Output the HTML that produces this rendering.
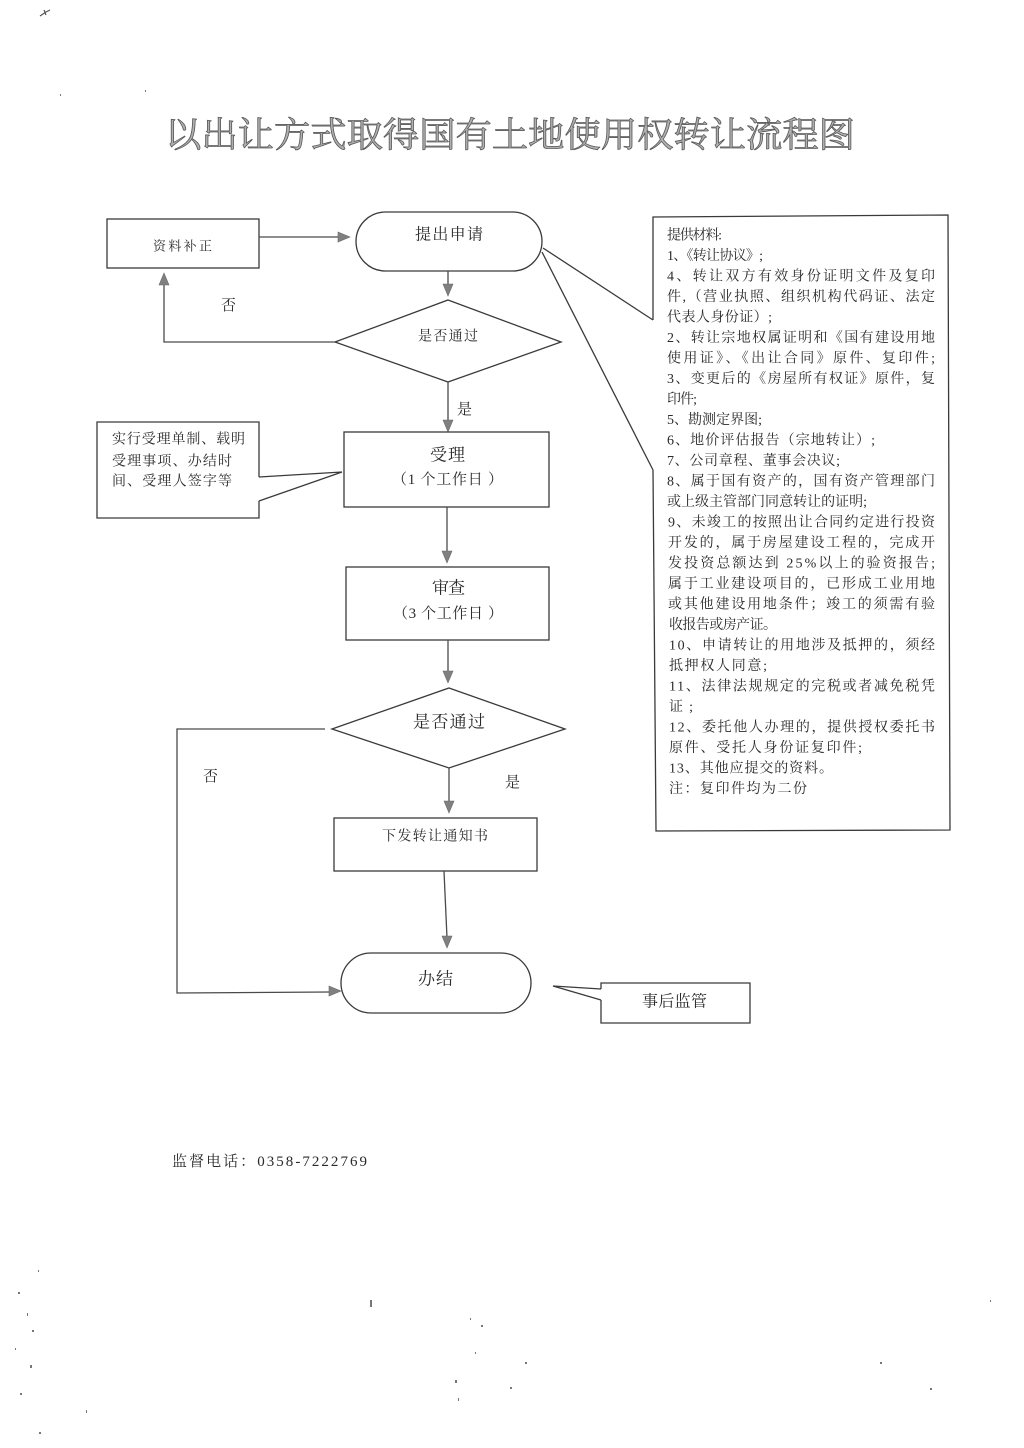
<!DOCTYPE html>
<html>
<head>
<meta charset="utf-8">
<style>
  html,body{margin:0;padding:0;background:#fff;}
  svg{display:block;}
  text{font-family:"Liberation Serif","Noto Serif CJK SC","Noto Sans CJK SC",serif;fill:#2a2a2a;dominant-baseline:central;}
  .box{fill:none;stroke:#3a3a3a;stroke-width:1.3;}
  .ln{fill:none;stroke:#4a4a4a;stroke-width:1.3;}
  .ah{fill:#808080;stroke:#6a6a6a;stroke-width:0.6;}
  .rt{font-size:14px;}
</style>
</head>
<body>
<svg width="1024" height="1448" viewBox="0 0 1024 1448" xmlns="http://www.w3.org/2000/svg">
  <rect x="0" y="0" width="1024" height="1448" fill="#fff"/>

  <!-- scan marks -->
  <path d="M40 16 L46 12 L50 10 M44 10 L46 15" stroke="#555" stroke-width="1.2" fill="none"/>

  <!-- Title -->
  <text x="165" y="133" font-size="35" textLength="690" lengthAdjust="spacingAndGlyphs" style="fill:#b0b0b0;stroke:#5a5a5a;stroke-width:0.8;font-weight:400;font-family:'Noto Serif CJK SC',serif;">以出让方式取得国有土地使用权转让流程图</text>

  <!-- 资料补正 box -->
  <rect class="box" x="107" y="219" width="152" height="49"/>
  <text x="153" y="246" font-size="13" textLength="59">资料补正</text>

  <!-- arrow 资料补正 -> 提出申请 -->
  <line class="ln" x1="259" y1="237" x2="340" y2="237"/>
  <polygon class="ah" points="338,232 350,237 338,242"/>

  <!-- 提出申请 terminal -->
  <rect class="box" x="356" y="212" width="186" height="59" rx="29.5" ry="29.5"/>
  <text x="415" y="235" font-size="16" textLength="68">提出申请</text>

  <!-- arrow down to diamond1 -->
  <line class="ln" x1="448" y1="271" x2="448" y2="286"/>
  <polygon class="ah" points="443,284 453,284 448,296"/>

  <!-- diamond 1 -->
  <polygon class="box" points="448,300 561,342 448,382 335,342"/>
  <text x="418" y="337" font-size="14" textLength="60">是否通过</text>

  <!-- no branch 1 -->
  <polyline class="ln" points="335,342 164,342 164,284"/>
  <polygon class="ah" points="159,285 169,285 164,273"/>
  <text x="221" y="306" font-size="15">否</text>

  <!-- yes branch 1 -->
  <line class="ln" x1="448" y1="382" x2="448" y2="422"/>
  <polygon class="ah" points="443,420 453,420 448,432"/>
  <text x="457" y="410" font-size="15">是</text>

  <!-- left callout -->
  <polyline class="box" points="259,477 259,422 97,422 97,518 259,518 259,501"/>
  <polyline class="box" points="259,477 342,472 259,501"/>
  <text x="112" y="440" font-size="14" textLength="133">实行受理单制、载明</text>
  <text x="112" y="462" font-size="14" textLength="120">受理事项、办结时</text>
  <text x="112" y="482" font-size="14" textLength="120">间、受理人签字等</text>

  <!-- 受理 box -->
  <rect class="box" x="344" y="432" width="205" height="75"/>
  <text x="430" y="455" font-size="17" textLength="35">受理</text>
  <text x="392" y="480" font-size="15" textLength="111">（1 个工作日 ）</text>

  <!-- arrow -> 审查 -->
  <line class="ln" x1="447" y1="507" x2="447" y2="553"/>
  <polygon class="ah" points="442,551 452,551 447,563"/>

  <!-- 审查 box -->
  <rect class="box" x="346" y="567" width="203" height="73"/>
  <text x="432" y="588" font-size="17" textLength="33">审查</text>
  <text x="393" y="614" font-size="15" textLength="110">（3 个工作日 ）</text>

  <!-- arrow -> diamond2 -->
  <line class="ln" x1="448" y1="640" x2="448" y2="673"/>
  <polygon class="ah" points="443,671 453,671 448,683"/>

  <!-- diamond 2 -->
  <polygon class="box" points="449,688 565,729 449,768 332,729"/>
  <text x="413" y="722" font-size="17" textLength="72">是否通过</text>

  <!-- yes branch 2 -->
  <line class="ln" x1="449" y1="768" x2="449" y2="803"/>
  <polygon class="ah" points="444,801 454,801 449,813"/>
  <text x="505" y="783" font-size="15">是</text>

  <!-- no branch 2 -->
  <polyline class="ln" points="325,729 177,729 177,993 330,992"/>
  <polygon class="ah" points="329,986 341,991 329,996"/>
  <text x="203" y="777" font-size="15">否</text>

  <!-- 下发转让通知书 -->
  <rect class="box" x="334" y="818" width="203" height="53"/>
  <text x="382" y="837" font-size="14" textLength="106">下发转让通知书</text>

  <!-- arrow -> 办结 -->
  <line class="ln" x1="444" y1="871" x2="447" y2="938"/>
  <polygon class="ah" points="442,936 452,936 447,948"/>

  <!-- 办结 terminal -->
  <rect class="box" x="341" y="953" width="190" height="60" rx="30" ry="30"/>
  <text x="418" y="979" font-size="17" textLength="35">办结</text>

  <!-- 事后监管 callout -->
  <polyline class="box" points="601,989 601,983 750,983 750,1023 601,1023 601,1000"/>
  <polyline class="box" points="601,989 553,986 601,1000"/>
  <text x="642" y="1002" font-size="16" textLength="65">事后监管</text>

  <!-- right materials callout -->
  <polyline class="box" points="653,320 653,217 948,215 950,830 656,831 653,470"/>
  <polyline class="box" points="653,320 543,248"/>
  <polyline class="box" points="542,252 653,470"/>

  <g class="rt">
    <text x="667" y="236" font-size="14" textLength="55">提供材料:</text>
    <text x="667" y="256.5" font-size="14" textLength="96">1、《转让协议》;</text>
    <text x="667" y="277" font-size="14" textLength="268">4、转让双方有效身份证明文件及复印</text>
    <text x="667" y="297.5" font-size="14" textLength="268">件,（营业执照、组织机构代码证、法定</text>
    <text x="667" y="318" font-size="14" textLength="105">代表人身份证）;</text>
    <text x="667" y="338.5" font-size="14" textLength="268">2、转让宗地权属证明和《国有建设用地</text>
    <text x="667" y="359" font-size="14" textLength="268">使用证》、《出让合同》原件、复印件;</text>
    <text x="667" y="379.5" font-size="14" textLength="268">3、变更后的《房屋所有权证》原件，复</text>
    <text x="667" y="400" font-size="14" textLength="30">印件;</text>
    <text x="667" y="420.5" font-size="14" textLength="95">5、勘测定界图;</text>
    <text x="667" y="441" font-size="14" textLength="208">6、地价评估报告（宗地转让）;</text>
    <text x="667" y="461.5" font-size="14" textLength="173">7、公司章程、董事会决议;</text>
    <text x="667" y="482" font-size="14" textLength="268">8、属于国有资产的，国有资产管理部门</text>
    <text x="667" y="502.5" font-size="14" textLength="200">或上级主管部门同意转让的证明;</text>
    <text x="668" y="523" font-size="14" textLength="267">9、未竣工的按照出让合同约定进行投资</text>
    <text x="668" y="543.5" font-size="14" textLength="267">开发的，属于房屋建设工程的，完成开</text>
    <text x="668" y="564" font-size="14" textLength="267">发投资总额达到 25%以上的验资报告;</text>
    <text x="668" y="584.5" font-size="14" textLength="267">属于工业建设项目的，已形成工业用地</text>
    <text x="668" y="605" font-size="14" textLength="267">或其他建设用地条件；竣工的须需有验</text>
    <text x="669" y="625.5" font-size="14" textLength="108">收报告或房产证。</text>
    <text x="669" y="646" font-size="14" textLength="266">10、申请转让的用地涉及抵押的，须经</text>
    <text x="669" y="666.5" font-size="14" textLength="98">抵押权人同意;</text>
    <text x="669" y="687" font-size="14" textLength="266">11、法律法规规定的完税或者减免税凭</text>
    <text x="669" y="707.5" font-size="14" textLength="24">证;</text>
    <text x="669" y="728" font-size="14" textLength="266">12、委托他人办理的，提供授权委托书</text>
    <text x="669" y="748.5" font-size="14" textLength="193">原件、受托人身份证复印件;</text>
    <text x="669" y="769" font-size="14" textLength="164">13、其他应提交的资料。</text>
    <text x="669" y="789.5" font-size="14" textLength="138">注：复印件均为二份</text>
  </g>

  <!-- phone -->
  <text x="172" y="1162" font-size="15" textLength="195">监督电话：0358-7222769</text>

  <!-- scan specks -->
  <g fill="#777">
    <rect x="38" y="1270" width="1" height="2"/>
    <rect x="18" y="1292" width="2" height="2"/>
    <rect x="27" y="1313" width="1" height="3"/>
    <rect x="32" y="1330" width="2" height="2"/>
    <rect x="15" y="1348" width="1" height="2"/>
    <rect x="30" y="1365" width="2" height="3"/>
    <rect x="20" y="1393" width="2" height="2"/>
    <rect x="86" y="1410" width="1" height="3"/>
    <rect x="39" y="1432" width="2" height="2"/>
    <rect x="370" y="1300" width="2" height="7"/>
    <rect x="470" y="1318" width="1" height="2"/>
    <rect x="481" y="1325" width="2" height="2"/>
    <rect x="475" y="1352" width="1" height="2"/>
    <rect x="525" y="1362" width="2" height="2"/>
    <rect x="455" y="1380" width="2" height="3"/>
    <rect x="510" y="1387" width="2" height="2"/>
    <rect x="458" y="1398" width="1" height="3"/>
    <rect x="880" y="1362" width="2" height="2"/>
    <rect x="930" y="1388" width="2" height="2"/>
    <rect x="990" y="1300" width="1" height="2"/>
    <rect x="60" y="94" width="1" height="2"/>
    <rect x="145" y="90" width="1" height="2"/>
  </g>
</svg>
</body>
</html>
